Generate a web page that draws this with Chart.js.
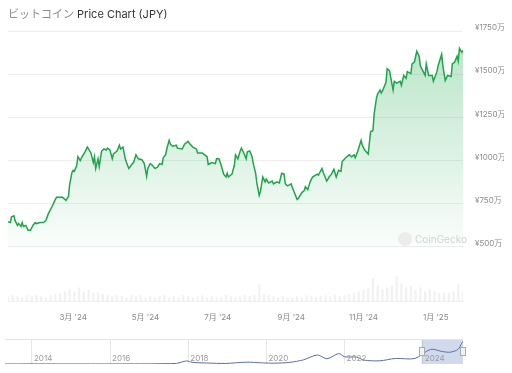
<!DOCTYPE html>
<html>
<head>
<meta charset="utf-8">
<script src="https://cdn.jsdelivr.net/npm/chart.js@4.4.1/dist/chart.umd.min.js"></script>
<style>
  body { margin: 0; background: #fff; }
  #wrap { position: relative; width: 512px; height: 373px; font-family: Inter, "Noto Sans CJK JP", sans-serif; }
  #title { position: absolute; left: 8px; top: 5px; font-size: 11px; color: #333; white-space: nowrap; }
  #title .jp { color: #8a8a8a; }
  #main { position: absolute; left: 0; top: 0; }
  #nav { position: absolute; left: 0; top: 334px; }
  #mark { position: absolute; left: 398px; top: 231px; height: 16px; display: flex; align-items: center; color: #d2d2d2; font-size: 10px; }
  #mark .dot { width: 14px; height: 14px; border-radius: 50%; background: #ececec; margin-right: 3px; }
</style>
</head>
<body>
<div id="wrap">
  <canvas id="main" width="512" height="335"></canvas>
  <canvas id="nav" width="512" height="36"></canvas>
  <div id="title"><span class="jp">ビットコイン</span> Price Chart (JPY)</div>
  <div id="mark"><div class="dot"></div>CoinGecko</div>
</div>
<script>
// days since 2024-01-06, price in 万円
const days = [0,2,3,5,6,8,9,11,12,13,15,17,19,21,23,24,27,29,30,32,34,37,40,41,46,47,49,51,52,54,55,56,58,59,61,62,65,67,70,72,73,74,76,77,79,81,83,84,86,88,89,92,94,95,97,99,100,102,105,106,108,110,113,115,117,118,120,122,124,126,128,130,131,133,134,136,137,139,142,143,147,149,152,153,156,159,160,164,166,168,169,172,175,176,178,180,182,184,185,186,189,191,192,194,196,197,199,201,202,204,206,207,209,210,212,213,215,217,218,220,223,224,227,229,231,233,234,236,239,240,242,244,245,248,250,251,253,255,257,261,262,265,266,269,271,273,275,277,279,281,282,285,288,290,292,293,295,298,299,301,304,306,308,309,311,312,314,315,316,319,320,322,325,326,328,331,332,334,336,337,340,341,343,345,347,348,350,352,353,355,358,359,362,363,366,367,369,371,374,375,377,379,380,381,383,384];
const prices = [643,638,671,677,649,621,632,615,638,615,621,593,593,621,638,632,638,638,638,649,688,728,772,784,784,778,767,789,857,930,941,935,969,1020,997,1014,1048,1076,1042,986,1020,952,1008,963,1053,1065,1059,1070,1059,1008,1036,1053,1087,1065,1076,1008,986,952,980,986,1031,1008,1003,980,907,952,980,969,952,958,980,975,1014,1031,1065,1115,1093,1081,1087,1070,1065,1093,1109,1098,1076,1065,1042,1042,1031,1020,975,986,980,1008,1008,969,919,902,924,902,919,969,1031,1008,1053,1070,1042,1008,1048,1053,1020,980,924,868,795,817,902,874,890,868,879,862,874,868,924,919,862,851,862,840,806,772,778,812,823,846,829,874,902,919,913,952,930,879,902,919,947,902,941,935,992,1014,1031,1020,1031,1014,1048,1115,1087,1059,1036,1166,1171,1267,1362,1385,1407,1390,1402,1452,1531,1520,1407,1458,1447,1458,1435,1492,1475,1514,1503,1559,1570,1632,1604,1548,1520,1492,1559,1492,1492,1458,1514,1548,1615,1548,1463,1492,1486,1559,1570,1604,1576,1649,1626,1638];

// daily volume (兆円), one bar every 4 days
const volumes = [2.5,3,2.5,2,3,2.5,3,2.5,2,3,3.5,
  4,5,6,5,7,5,6,4.5,4,3.5,
  3,2.5,3,2.5,2,3,2.5,3,2,2.5,2,2.5,3,2,2.5,2,3,2.5,2,2.5,3,2,2.5,2,2,3,2.5,2,2.5,3,2.5,3,
  9,
  3.5,3,2.5,2,2.5,2,2,2.5,2,3,2.5,2,2.5,3,2.5,3,2.5,3,3.5,4,
  5,6,7,12,8,6,7,8,13,9,7,8,6,7,5,6,5,4,4.5,4,5,9,5];
const volDays = volumes.map((v, i) => i * 4);

const priceTicks = [500, 750, 1000, 1250, 1500, 1750];
const tickDays = [55, 116, 177, 239, 300, 361];
const tickLabels = ["3月 '24", "5月 '24", "7月 '24", "9月 '24", "11月 '24", "1月 '25"];

// navigator: whole history
const navYears = [2013.31,2013.6,2013.92,2014.2,2014.5,2015.0,2015.5,2016.0,2016.5,2017.0,2017.4,2017.7,2017.96,2018.1,2018.5,2018.95,2019.5,2019.9,2020.2,2020.6,2020.95,2021.3,2021.55,2021.85,2022.0,2022.3,2022.5,2022.9,2023.3,2023.8,2024.2,2024.5,2024.7,2024.9,2025.0,2025.03];
const navPrices = [1.2,1.5,11,6,6,3,3,5,7,11,25,45,220,120,70,40,130,80,60,120,300,650,380,750,520,500,280,230,400,400,1050,900,850,1050,1500,1620];
const navYearTicks = [2014, 2016, 2018, 2020, 2022, 2024];
const selFrom = 2023.97, selTo = 2025.03;

const font = 'Inter, "Noto Sans CJK JP", sans-serif';

new Chart(document.getElementById('main'), {
  type: 'line',
  data: {
    datasets: [{
      data: days.map((d, i) => ({ x: d, y: prices[i] })),
      borderColor: '#1fa54a',
      borderWidth: 1.5,
      pointRadius: 0,
      tension: 0,
      fill: { value: 490 },
      order: 1,
      backgroundColor: (c) => {
        const ch = c.chart;
        if (!ch.chartArea) return 'rgba(0,0,0,0)';
        const ys = ch.scales.y;
        const g = ch.ctx.createLinearGradient(0, ys.getPixelForValue(1750), 0, ys.getPixelForValue(490));
        g.addColorStop(0, 'rgba(40,175,85,0.34)');
        g.addColorStop(1, 'rgba(40,175,85,0.02)');
        return g;
      }
    }, {
      type: 'bar',
      yAxisID: 'yv',
      data: volDays.map((d, i) => ({ x: d, y: volumes[i] })),
      backgroundColor: 'rgba(200,200,200,0.25)',
      barThickness: 1.5,
      order: 2
    }]
  },
  options: {
    responsive: false,
    animation: false,
    layout: { padding: { left: 8, right: 8, top: 31, bottom: 10 } },
    plugins: { legend: { display: false }, tooltip: { enabled: false } },
    scales: {
      x: {
        type: 'linear',
        min: 0, max: 384,
        offset: false,
        afterBuildTicks: s => { s.ticks = tickDays.map(v => ({ value: v })); },
        ticks: {
          callback: (v, i) => tickLabels[i],
          color: '#888', font: { size: 8, family: font }, padding: 3, maxRotation: 0, autoSkip: false
        },
        grid: { display: false },
        border: { color: '#f2f2f2' }
      },
      y: {
        position: 'right',
        min: 180, max: 1750,
        afterBuildTicks: s => { s.ticks = priceTicks.map(v => ({ value: v })); },
        afterFit: s => { s.width = 41; },
        ticks: {
          callback: v => '¥' + v + '万',
          color: '#8c8c8c', font: { size: 8, family: font }, padding: 12, labelOffset: -3
        },
        grid: { color: '#eeeeee', drawTicks: false },
        border: { display: false }
      },
      yv: { display: false, min: 0, max: 140 }
    }
  }
});

const navDeco = {
  id: 'navDeco',
  beforeDatasetsDraw(chart) {
    const { ctx, chartArea: a, scales: { x } } = chart;
    const x0 = x.getPixelForValue(selFrom), x1 = x.getPixelForValue(selTo);
    ctx.save();
    ctx.fillStyle = 'rgba(102,133,194,0.3)';
    ctx.fillRect(x0, a.top, x1 - x0, a.bottom - a.top);
    ctx.strokeStyle = '#e3e3e3';
    ctx.beginPath();
    ctx.moveTo(a.left, a.top + 0.5);
    ctx.lineTo(a.right, a.top + 0.5);
    ctx.stroke();
    ctx.restore();
  },
  afterDraw(chart) {
    const { ctx, chartArea: a, scales: { x } } = chart;
    ctx.save();
    ctx.fillStyle = '#9a9a9a';
    ctx.font = '8px ' + font;
    ctx.textBaseline = 'middle';
    navYearTicks.forEach(yr => ctx.fillText(String(yr), x.getPixelForValue(yr) + 2, a.bottom - 5));
    [selFrom, selTo].forEach(v => {
      const px = Math.round(x.getPixelForValue(v));
      ctx.fillStyle = '#f2f2f2';
      ctx.strokeStyle = '#aaa';
      ctx.fillRect(px - 2.5, a.top + 8.5, 5, 8);
      ctx.strokeRect(px - 2.5, a.top + 8.5, 5, 8);
    });
    ctx.restore();
  }
};

new Chart(document.getElementById('nav'), {
  type: 'line',
  data: {
    datasets: [{
      data: navYears.map((y, i) => ({ x: y, y: navPrices[i] })),
      borderColor: '#5a6fa8',
      borderWidth: 1,
      pointRadius: 0,
      tension: 0.3,
      fill: false
    }]
  },
  options: {
    responsive: false,
    animation: false,
    layout: { padding: { left: 5, right: 49, top: 5, bottom: 6 } },
    plugins: { legend: { display: false }, tooltip: { enabled: false } },
    scales: {
      x: {
        type: 'linear',
        min: 2013.31, max: 2025.03,
        afterBuildTicks: s => { s.ticks = navYearTicks.map(v => ({ value: v })); },
        ticks: { display: false },
        grid: { color: '#e6e6e6', drawTicks: false },
        border: { display: false }
      },
      y: { display: false, min: 0, max: 1800 }
    }
  },
  plugins: [navDeco]
});
</script>
</body>
</html>
